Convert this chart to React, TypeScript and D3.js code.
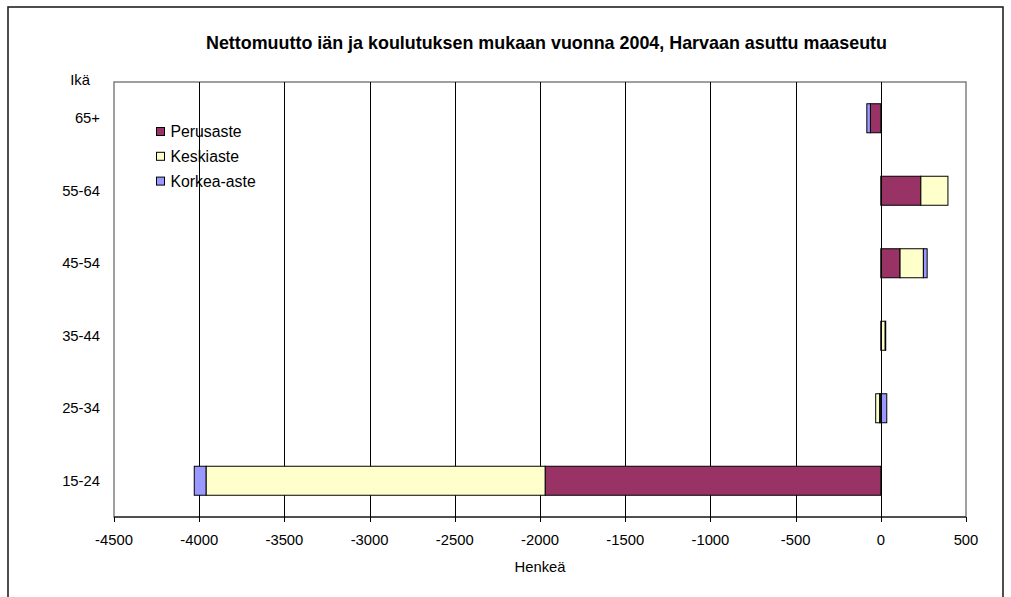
import React from "react";
import * as d3 from "d3";

const categories = ["65+", "55-64", "45-54", "35-44", "25-34", "15-24"];
const seriesNames = ["Perusaste", "Keskiaste", "Korkea-aste"];
const perusaste = [-61, 235, 113, 4, -7, -1970];
const keskiaste = [0, 159, 137, 22, -23, -1990];
const korkeaAste = [-21, 0, 22, 3, 35, -69];
const xTicks = [-4500, -4000, -3500, -3000, -2500, -2000, -1500, -1000, -500, 0, 500];
const colors = ["#993366", "#FFFFCC", "#9999FF"];

const title = "Nettomuutto iän ja koulutuksen mukaan vuonna 2004, Harvaan asuttu maaseutu";

export default function App() {
  const W = 1011, H = 597;
  const left = 114, right = 966, top = 82, bottom = 517;
  const font = "Arial, 'Liberation Sans', sans-serif";

  const rows = categories.map((c, i) => ({
    cat: c,
    Perusaste: perusaste[i],
    Keskiaste: keskiaste[i],
    "Korkea-aste": korkeaAste[i],
  }));
  const stack = d3.stack<any>().keys(seriesNames).offset(d3.stackOffsetDiverging);
  const stacked = stack(rows);

  const x = d3.scaleLinear().domain([-4500, 500]).range([left, right]);
  const y = d3.scaleBand<string>().domain(categories).range([top, bottom]).paddingInner(0.6).paddingOuter(0.3);
  const band = d3.scaleBand<string>().domain(categories).range([top, bottom]);

  return (
    <svg width={W} height={H} style={{ position: "absolute", left: 0, top: 0, background: "#fff" }} fontFamily={font}>
      <rect x={8} y={7} width={995} height={640} fill="#fff" stroke="#222" strokeWidth={1.6} />
      <text x={546.5} y={49} textAnchor="middle" fontWeight="bold" fontSize={17.9}>{title}</text>
      {/* plot area border */}
      <rect x={left} y={top} width={right - left} height={bottom - top} fill="#fff" stroke="#808080" strokeWidth={1.5} />
      {/* gridlines */}
      {xTicks.filter(t => t !== -4500 && t !== 500).map(t => (
        <line key={t} x1={Math.round(x(t)) + 0.5} x2={Math.round(x(t)) + 0.5} y1={top} y2={bottom} stroke="#000" strokeWidth={1} />
      ))}
      {/* bars */}
      {stacked.map((s, si) => (
        <g key={s.key}>
          {s.map((d, i) => {
            const x0 = x(Math.min(d[0], d[1]));
            const x1 = x(Math.max(d[0], d[1]));
            if (x1 - x0 < 0.01) return null;
            return (
              <rect key={i} x={x0} y={y(categories[i])!} width={x1 - x0} height={y.bandwidth()}
                fill={colors[si]} stroke="#000" strokeWidth={1} />
            );
          })}
        </g>
      ))}
      {/* zero line */}
      <line x1={Math.round(x(0)) + 0.5} x2={Math.round(x(0)) + 0.5} y1={top} y2={bottom} stroke="#000" strokeWidth={1} />
      {/* x axis */}
      <line x1={left} x2={right} y1={bottom} y2={bottom} stroke="#000" strokeWidth={1} />
      {xTicks.map(t => (
        <g key={t}>
          <line x1={Math.round(x(t)) + 0.5} x2={Math.round(x(t)) + 0.5} y1={bottom} y2={bottom + 5} stroke="#000" />
          <text x={x(t)} y={545} textAnchor="middle" fontSize={14.8}>{t}</text>
        </g>
      ))}
      <text x={540} y={572} textAnchor="middle" fontSize={14.8}>Henkeä</text>
      {/* category labels */}
      <text x={80} y={85} textAnchor="middle" fontSize={14.8}>Ikä</text>
      {categories.map(c => (
        <text key={c} x={100} y={band(c)! + band.bandwidth() / 2 + 5} textAnchor="end" fontSize={14.8}>{c}</text>
      ))}
      {/* legend */}
      {seriesNames.map((n, i) => (
        <g key={n} transform={`translate(156, ${127 + i * 24.8})`}>
          <rect x={0.5} y={0.5} width={8} height={8} fill={colors[i]} stroke="#000" />
          <text x={14.5} y={10} fontSize={15.8}>{n}</text>
        </g>
      ))}
    </svg>
  );
}
